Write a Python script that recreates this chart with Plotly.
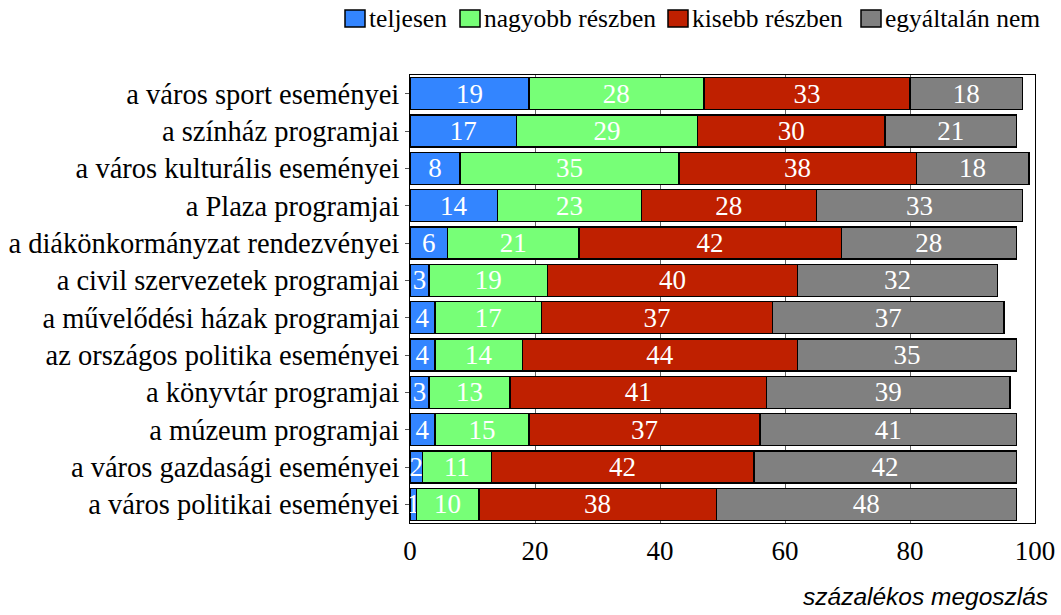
import plotly.graph_objects as go

categories = [
    "a város sport eseményei",
    "a színház programjai",
    "a város kulturális eseményei",
    "a Plaza programjai",
    "a diákönkormányzat rendezvényei",
    "a civil szervezetek programjai",
    "a művelődési házak programjai",
    "az országos politika eseményei",
    "a könyvtár programjai",
    "a múzeum programjai",
    "a város gazdasági eseményei",
    "a város politikai eseményei",
]
teljesen = [19, 17, 8, 14, 6, 3, 4, 4, 3, 4, 2, 1]
nagyobb = [28, 29, 35, 23, 21, 19, 17, 14, 13, 15, 11, 10]
kisebb = [33, 30, 38, 28, 42, 40, 37, 44, 41, 37, 42, 38]
egyaltalan = [18, 21, 18, 33, 28, 32, 37, 35, 39, 41, 42, 48]

series_names = ["teljesen", "nagyobb részben", "kisebb részben", "egyáltalán nem"]
series_values = [teljesen, nagyobb, kisebb, egyaltalan]
series_colors = ["#3385FF", "#77FF77", "#BF2000", "#808080"]
x_ticks = [0, 20, 40, 60, 80, 100]

SERIF = "Liberation Serif"
W, H = 1061, 615
ML, MR, MT, MB = 410, 26, 75, 92
PW, PH = W - ML - MR, H - MT - MB


def px_x(px):
    return (px - ML) / PW


def px_y(py):
    return (H - MB - py) / PH


fig = go.Figure()
for name, vals, col in zip(series_names, series_values, series_colors):
    fig.add_trace(go.Bar(
        name=name, y=categories, x=vals, orientation="h",
        marker=dict(color=col, line=dict(color="black", width=1.5)),
        text=[str(v) for v in vals],
        textposition="inside", insidetextanchor="middle",
        constraintext="none", textangle=0,
        textfont=dict(family=SERIF, size=27, color="white"),
        hoverinfo="skip", showlegend=False,
    ))

# custom legend (layout positions in pixels)
legend_symbol_left = [345, 460, 668, 861]
shapes = []
annotations = []
for name, col, sx in zip(series_names, series_colors, legend_symbol_left):
    shapes.append(dict(
        type="rect", xref="paper", yref="paper",
        x0=px_x(sx), x1=px_x(sx + 20), y0=px_y(27), y1=px_y(10),
        fillcolor=col, line=dict(color="black", width=1.5),
    ))
    annotations.append(dict(
        text=name, xref="paper", yref="paper",
        x=px_x(sx + 22), y=px_y(18), xanchor="left", yanchor="middle",
        showarrow=False,
        font=dict(family=SERIF, size=25.5, color="black"),
    ))

annotations.append(dict(
    text="<i>százalékos megoszlás</i>", xref="paper", yref="paper",
    x=px_x(1050), y=px_y(596), xanchor="right", yanchor="middle", showarrow=False,
    font=dict(family="Liberation Sans", size=24.5, color="black"),
))

fig.update_layout(
    barmode="stack",
    bargap=0.14,
    width=W, height=H,
    margin=dict(l=ML, r=MR, t=MT, b=MB, autoexpand=False),
    paper_bgcolor="white", plot_bgcolor="white",
    font=dict(family=SERIF, color="black"),
    showlegend=False,
    xaxis=dict(
        range=[0, 100], tickvals=x_ticks, ticktext=[str(t) for t in x_ticks],
        tickfont=dict(family=SERIF, size=27, color="black"),
        showgrid=True, gridcolor="#666666", gridwidth=1,
        showline=True, linecolor="black", linewidth=1, mirror=True,
        zeroline=False, ticks="", ticklabelstandoff=4,
    ),
    yaxis=dict(
        autorange="reversed",
        tickfont=dict(family=SERIF, size=28.5, color="black"),
        showline=True, linecolor="black", linewidth=1, mirror=True,
        ticks="outside", ticklen=4, tickcolor="#555555",
        showgrid=False,
    ),
    shapes=shapes,
    annotations=annotations,
)

fig.write_html(
    "out.html",
    config={"displayModeBar": False},
    post_script="document.body.style.margin='0px';",
)
